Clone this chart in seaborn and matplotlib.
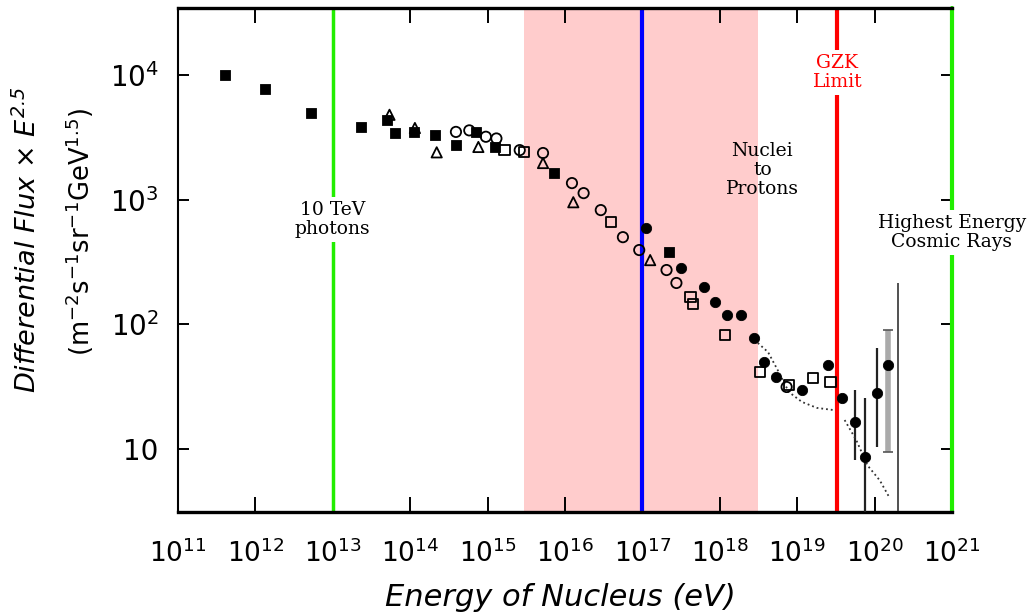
import matplotlib
matplotlib.use("Agg")
import matplotlib.pyplot as plt
import seaborn as sns
from matplotlib.ticker import FixedLocator, FixedFormatter, NullLocator

sns.set_style("ticks")
plt.rcParams['mathtext.default'] = 'regular'
plt.rcParams['text.color'] = 'black'
plt.rcParams['xtick.color'] = 'black'
plt.rcParams['ytick.color'] = 'black'
plt.rcParams['axes.edgecolor'] = 'black'

# cosmic ray spectrum (energy in eV, flux * E^2.5)
# filled squares
sq_E = [4.1e11, 1.33e12, 5.2e12, 2.3e13, 5.0e13, 6.3e13, 1.12e14, 2.1e14, 3.9e14, 7.1e14, 1.26e15, 7.2e15, 2.2e17]
sq_F = [1.0e4, 7.7e3, 4.95e3, 3.8e3, 4.35e3, 3.43e3, 3.5e3, 3.3e3, 2.75e3, 3.5e3, 2.65e3, 1.64e3, 380]

# open triangles
tri_E = [5.4e13, 1.15e14, 2.2e14, 7.6e14, 5.2e15, 1.28e16, 1.26e17]
tri_F = [4.8e3, 3.76e3, 2.4e3, 2.65e3, 1.97e3, 955, 328]

# open circles
oc_E = [3.9e14, 5.8e14, 9.5e14, 1.3e15, 2.6e15, 5.2e15, 1.23e16, 1.74e16, 2.9e16, 5.6e16, 9.1e16, 2.05e17, 2.75e17, 7.3e18]
oc_F = [3.5e3, 3.6e3, 3.2e3, 3.1e3, 2.5e3, 2.37e3, 1.36e3, 1.13e3, 826, 501, 395, 273, 215, 31.5]

# open squares
os_E = [1.66e15, 2.95e15, 3.9e16, 4.2e17, 4.5e17, 1.17e18, 3.3e18, 7.8e18, 1.6e19, 2.7e19]
os_F = [2.5e3, 2.4e3, 662, 166, 146, 82, 41.5, 32.7, 37, 34.5]

# filled circles
fc_E = [1.1e17, 3.2e17, 6.2e17, 8.7e17, 1.23e18, 1.86e18, 2.8e18, 3.7e18, 5.3e18, 1.15e19,
        2.5e19, 3.8e19, 5.6e19, 7.6e19, 1.07e20, 1.5e20]
fc_F = [593, 283, 200, 151, 119, 119, 78, 50, 37.8, 29.8, 47, 25.7, 16.5, 8.6, 28.2, 47]

# error bars at the highest energies
err_E = [5.6e19, 7.6e19, 1.07e20]
err_lo = [8.2, 3.1, 10.4]
err_hi = [29.8, 25.7, 64.6]
grey_E = [1.5e20]
grey_lo = [9.5]
grey_hi = [90]
thin_E = [2.0e20]
thin_lo = [3.2]
thin_hi = [215]

# dotted model curves
dotA_E = [3.1e18, 4.2e18, 5.6e18, 7.8e18, 1.15e19, 1.8e19, 2.9e19]
dotA_F = [71, 60, 43, 28.7, 23.9, 21.4, 20.6]
dotB_E = [4.1e19, 5.8e19, 8.1e19, 1.17e20, 1.55e20]
dotB_F = [17.1, 11.8, 7.4, 5.6, 4.1]

# marked energies
photons_E = 1e13
knee_lo, knee_hi = 10**15.47, 10**18.49
nuclei_E = 1e17
gzk_E = 10**19.52
highest_E = 1e21

fig = plt.figure(figsize=(10.29, 6.15), dpi=100)
ax = fig.add_axes([178/1029, 103/615, 774/1029, 504/615])
ax.set_xscale('log')
ax.set_yscale('log')

ax.axvspan(knee_lo, knee_hi, color='#ffcccc', lw=0, zorder=0)

mk = dict(ax=ax, s=55, zorder=4, legend=False)
sns.scatterplot(x=sq_E, y=sq_F, marker='s', color='black', edgecolor='black', **mk)
sns.scatterplot(x=tri_E, y=tri_F, marker='^', facecolor='none', edgecolor='black', linewidth=1.3, **mk)
sns.scatterplot(x=oc_E, y=oc_F, marker='o', facecolor='none', edgecolor='black', linewidth=1.3, **mk)
sns.scatterplot(x=os_E, y=os_F, marker='s', facecolor='none', edgecolor='black', linewidth=1.3, **mk)
sns.scatterplot(x=fc_E, y=fc_F, marker='o', color='black', edgecolor='black', **mk)

ax.vlines(err_E, err_lo, err_hi, color='#222222', lw=1.6, zorder=3)
ax.vlines(grey_E, grey_lo, grey_hi, color='#aaaaaa', lw=4, zorder=2)
ax.vlines(thin_E, thin_lo, thin_hi, color='#333333', lw=1.2, zorder=3)
ax.hlines([9.5, 90], 1.3e20, 1.75e20, color='#555555', lw=1.2, zorder=3)

ax.plot(dotA_E, dotA_F, ls=':', color='#333333', lw=1.3, zorder=3)
ax.plot(dotB_E, dotB_F, ls=':', color='#333333', lw=1.3, zorder=3)

ax.axvline(photons_E, color='#22ee00', lw=2.5, zorder=2)
ax.axvline(nuclei_E, color='#0000ff', lw=3, zorder=2)
ax.axvline(gzk_E, color='#ff0000', lw=3, zorder=2)
ax.axvline(highest_E, color='#22ee00', lw=3, zorder=2, clip_on=False)

serif = dict(family='DejaVu Serif', fontsize=13.5, ha='center', va='center', linespacing=1.05)
box = dict(facecolor='white', edgecolor='none', pad=3)
ax.text(photons_E, 10**2.84, "10 TeV\nphotons", bbox=box, zorder=6, **serif)
ax.text(gzk_E, 10**4.02, "GZK\nLimit", color='#ff0000', bbox=box, zorder=6, **serif)
ax.text(10**18.55, 10**3.24, "Nuclei\nto\nProtons", zorder=6, **serif)
ax.text(highest_E, 10**2.74, "Highest Energy\nCosmic Rays", bbox=box, zorder=6, clip_on=False, **serif)

ax.set_xlim(1e11, 1e21)
ax.set_ylim(3.13, 3.45e4)

xt = [10.0**k for k in range(11, 22)]
ax.xaxis.set_major_locator(FixedLocator(xt))
ax.xaxis.set_major_formatter(FixedFormatter([f"$10^{{{k}}}$" for k in range(11, 22)]))
ax.xaxis.set_minor_locator(NullLocator())
ax.yaxis.set_major_locator(FixedLocator([10.0, 100.0, 1000.0, 10000.0]))
ax.yaxis.set_major_formatter(FixedFormatter(["10", "$10^2$", "$10^3$", "$10^4$"]))
ax.yaxis.set_minor_locator(NullLocator())

ax.tick_params(axis='x', direction='in', length=11, width=1.4, top=True, bottom=True, labelsize=19, pad=20)
ax.tick_params(axis='y', direction='in', length=8, width=1.4, left=True, right=True, labelsize=20, pad=14)

ax.spines['right'].set_visible(False)
ax.spines['top'].set_linewidth(2.4)
ax.spines['bottom'].set_linewidth(2.4)
ax.spines['left'].set_linewidth(1.5)

fig.text(560/1029, 1 - 597/615, "Energy of Nucleus (eV)", style='italic', fontsize=22,
         ha='center', va='center')
fig.text(28/1029, 1 - 240/615, "Differential Flux × $\\mathit{E}^{2.5}$", style='italic',
         fontsize=19.5, rotation=90, ha='center', va='center')
fig.text(80/1029, 1 - 232/615, "($m^{-2}s^{-1}sr^{-1}GeV^{1.5}$)", fontsize=18.5,
         rotation=90, ha='center', va='center')

fig.savefig("out.png", dpi=100)
